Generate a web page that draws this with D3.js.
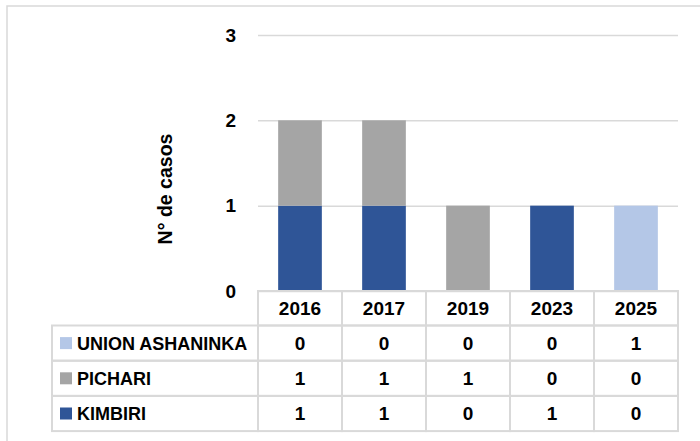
<!DOCTYPE html>
<html><head><meta charset="utf-8">
<script src="https://cdn.jsdelivr.net/npm/d3@7"></script>
<style>
html,body{margin:0;padding:0;background:#fff;}
svg{display:block;font-family:"Liberation Sans",Arial,sans-serif;font-weight:bold;}
</style></head>
<body>
<svg id="chart" width="700" height="441"></svg>
<script>
const years = ["2016", "2017", "2019", "2023", "2025"];
const seriesNames = ["KIMBIRI", "PICHARI", "UNION ASHANINKA"];
const kimbiri = [1, 1, 0, 1, 0];
const pichari = [1, 1, 1, 0, 0];
const unionAshaninka = [0, 0, 0, 0, 1];
const yTicks = [0, 1, 2, 3];
const yTitle = "N° de casos";
const seriesColors = ["#2F5597", "#A5A5A5", "#B4C7E7"];

const seriesValues = [kimbiri, pichari, unionAshaninka];
const rows = years.map((y, i) => {
  const r = {year: y};
  seriesNames.forEach((s, j) => r[s] = seriesValues[j][i]);
  return r;
});

const svg = d3.select("#chart");
const grid = "#D9D9D9";
const fs = 19, fsName = 18, fsTitle = 19.5;

// outer frame
svg.append("rect").attr("x", 7).attr("y", 6).attr("width", 720).attr("height", 460)
  .attr("fill", "#fff").attr("stroke", grid).attr("stroke-width", 1.5);

const plotL = 258, plotR = 678, plotT = 35, plotB = 291;
const x = d3.scaleBand().domain(years).range([plotL, plotR]);
const y = d3.scaleLinear().domain([0, 3]).range([plotB, plotT]);
const barFrac = 0.52;

// y axis with gridlines
const yAxis = svg.append("g").attr("transform", `translate(${plotL},0)`)
  .call(d3.axisLeft(y).tickValues(yTicks).tickFormat(d3.format("d"))
    .tickSize(-(plotR - plotL)).tickPadding(22));
yAxis.select(".domain").remove();
yAxis.selectAll("line").attr("stroke", grid).attr("stroke-width", 1.5);
yAxis.selectAll("text").attr("font-size", fs).attr("font-family", "Liberation Sans, Arial, sans-serif")
  .attr("font-weight", "bold").attr("fill", "#000");

// stacked bars
const stack = d3.stack().keys(seriesNames)(rows);
svg.append("g").selectAll("g").data(stack).join("g")
  .attr("fill", (d, i) => seriesColors[i])
  .selectAll("rect").data(d => d).join("rect")
  .attr("x", d => x(d.data.year) + x.bandwidth() * (1 - barFrac) / 2)
  .attr("width", x.bandwidth() * barFrac)
  .attr("y", d => y(d[1]))
  .attr("height", d => y(d[0]) - y(d[1]));

// y title
svg.append("text").attr("transform", `translate(172,189) rotate(-90)`)
  .attr("text-anchor", "middle").attr("font-size", fsTitle).attr("fill", "#000")
  .text(yTitle);

// data table
const headerH = 34.5, rowH = 35.2;
const tableL = 52;
const tg = svg.append("g");
const lineAttr = sel => sel.attr("stroke", grid).attr("stroke-width", 2);

// header cells
years.forEach(yr => {
  tg.append("rect").attr("x", x(yr)).attr("y", plotB).attr("width", x.bandwidth()).attr("height", headerH)
    .attr("fill", "none").call(lineAttr);
  tg.append("text").attr("x", x(yr) + x.bandwidth() / 2).attr("y", plotB + headerH / 2)
    .attr("dy", "0.36em").attr("text-anchor", "middle").attr("font-size", fs).text(yr);
});

const tableRows = seriesNames.map((s, j) => ({name: s, vals: seriesValues[j], color: seriesColors[j]})).reverse();
tableRows.forEach((r, k) => {
  const top = plotB + headerH + k * rowH;
  tg.append("rect").attr("x", tableL).attr("y", top).attr("width", plotL - tableL).attr("height", rowH)
    .attr("fill", "none").call(lineAttr);
  tg.append("rect").attr("x", 60).attr("y", top + rowH / 2 - 6).attr("width", 12).attr("height", 12)
    .attr("fill", r.color);
  tg.append("text").attr("x", 77).attr("y", top + rowH / 2).attr("dy", "0.36em")
    .attr("font-size", fsName).text(r.name);
  years.forEach((yr, i) => {
    tg.append("rect").attr("x", x(yr)).attr("y", top).attr("width", x.bandwidth()).attr("height", rowH)
      .attr("fill", "none").call(lineAttr);
    tg.append("text").attr("x", x(yr) + x.bandwidth() / 2).attr("y", top + rowH / 2).attr("dy", "0.36em")
      .attr("text-anchor", "middle").attr("font-size", fs).text(r.vals[i]);
  });
});
</script>
</body></html>
